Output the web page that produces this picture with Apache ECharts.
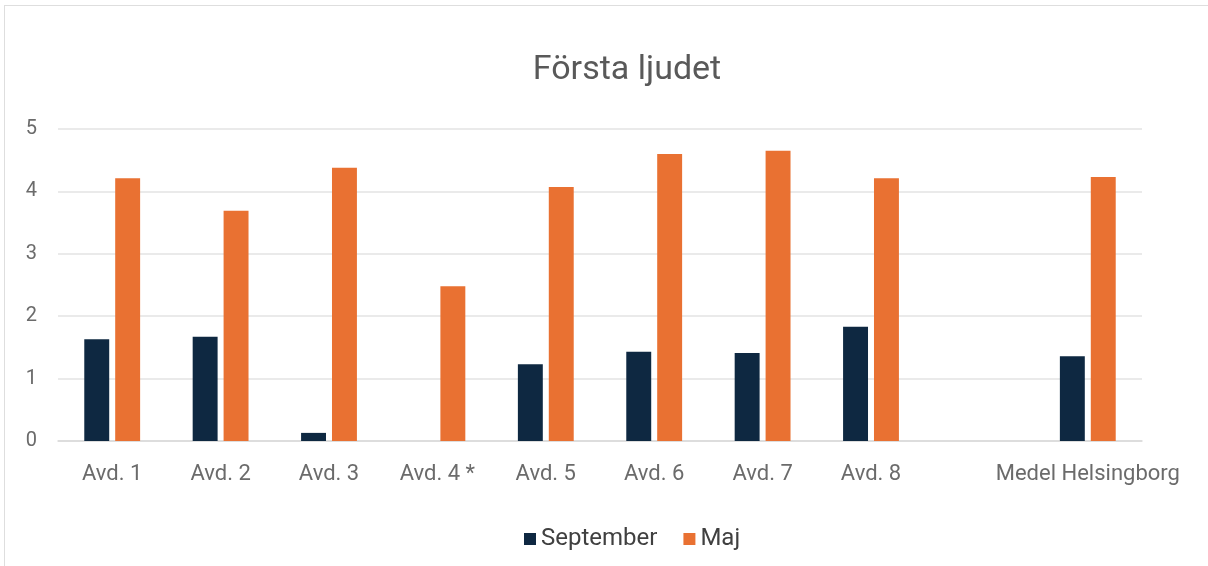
<!DOCTYPE html>
<html>
<head>
<meta charset="utf-8">
<script src="https://cdn.jsdelivr.net/npm/echarts@6/dist/echarts.min.js"></script>
<style>
html,body{margin:0;padding:0;background:#fff;overflow:hidden;}
#frame{position:absolute;left:4px;top:5px;width:1220px;height:580px;border:1.5px solid #dedede;box-sizing:border-box;}
#chart{position:absolute;left:0;top:0;width:1208px;height:566px;}
</style>
</head>
<body>
<div id="frame"></div>
<div id="chart"></div>
<script>
const categories = ['Avd. 1','Avd. 2','Avd. 3','Avd. 4 *','Avd. 5','Avd. 6','Avd. 7','Avd. 8','','Medel Helsingborg'];
const septemberValues = [1.63, 1.67, 0.13, null, 1.23, 1.43, 1.41, 1.83, null, 1.36];
const majValues = [4.21, 3.69, 4.38, 2.48, 4.07, 4.60, 4.65, 4.21, null, 4.23];
const seriesNames = ['September','Maj'];
const yTicks = [0,1,2,3,4,5];

const chart = echarts.init(document.getElementById('chart'), null, {renderer:'canvas'});
const font = 'Roboto, "Liberation Sans", sans-serif';
chart.setOption({
  backgroundColor: 'transparent',
  animation: false,
  title: {
    text: 'Första ljudet',
    left: 622, top: 48, textAlign: 'center',
    textStyle: {fontFamily: font, fontSize: 34, fontWeight: 'normal', color: '#595959'}
  },
  legend: {
    data: seriesNames,
    left: 519, top: 522,
    itemWidth: 12, itemHeight: 12, itemGap: 26,
    icon: 'rect',
    textStyle: {fontFamily: font, fontSize: 24, color: '#404040'}
  },
  grid: {left: 58, right: 66, top: 129, bottom: 125, containLabel: false},
  xAxis: {
    type: 'category',
    data: categories,
    axisLine: {lineStyle: {color: '#d9d9d9', width: 1.5}},
    axisTick: {show: false},
    axisLabel: {fontFamily: font, fontSize: 22, color: '#6b6b6b', margin: 22, interval: 0}
  },
  yAxis: {
    type: 'value',
    min: 0, max: 5, interval: 1,
    axisLine: {show: false},
    axisTick: {show: false},
    splitLine: {lineStyle: {color: '#e3e3e3', width: 1.5}},
    axisLabel: {fontFamily: font, fontSize: 20, color: '#6b6b6b', margin: 21,
      formatter: v => yTicks.includes(v) ? String(v) : ''}
  },
  series: [
    {name: seriesNames[0], type: 'bar', data: septemberValues, barWidth: '23%', barGap: '24%',
     itemStyle: {color: '#0E2841'}},
    {name: seriesNames[1], type: 'bar', data: majValues, barWidth: '23%', barGap: '24%',
     itemStyle: {color: '#E97132'}}
  ]
});
</script>
</body>
</html>
